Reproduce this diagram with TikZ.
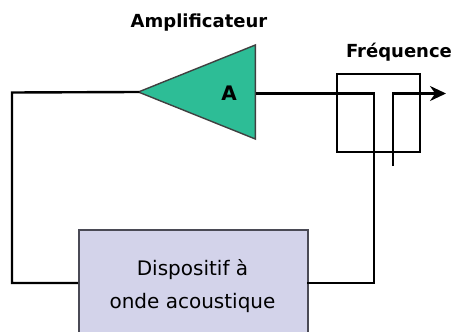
\documentclass[tikz,border=0pt]{standalone}
\usepackage{fontspec}
\setmainfont{DejaVu Sans}
\usetikzlibrary{positioning,arrows.meta,shapes.geometric}
\definecolor{green1}{HTML}{2DBD96}
\definecolor{lilac1}{HTML}{D3D3EA}
\definecolor{gray1}{HTML}{4A4A55}

\begin{document}
\begin{tikzpicture}[
    x=1pt, y=-1pt,
    >=Stealth,
    wire/.style={draw=black, line width=2.4pt, line join=miter},
    lbl/.style={font=\fontsize{18}{22}\selectfont\bfseries, inner sep=0pt},
    txt/.style={font=\fontsize{20}{33}\selectfont, align=center, inner sep=0pt},
]
\useasboundingbox (0,0) rectangle (453,332);

% Device box, cut by the lower edge
\node[draw=gray1, fill=lilac1, line width=1.6pt, minimum width=229pt, minimum height=104pt,
      inner sep=0pt, anchor=north west] (dev) at (78,229) {};
\node[txt] (devtxt) at (192.5,286) {Dispositif à\\onde acoustique};

% Amplifier
\node[isosceles triangle, isosceles triangle stretches, shape border rotate=180,
      draw=black!75, fill=green1, line width=1.4pt, minimum width=94pt, minimum height=117pt,
      inner sep=0pt, anchor=apex] (amp) at (136.5,92) {};
\node[font=\fontsize{20}{24}\selectfont\bfseries, inner sep=0pt] (ampA) at (229,93) {A};
\node[lbl] (amptxt) at (199,23) {Amplificateur};

% Frequency box
\node[draw=black, line width=2.2pt, minimum width=83pt, minimum height=78pt,
      inner sep=0pt, anchor=north west] (freq) at (336,73) {};
\node[lbl] (freqtxt) at (399,52) {Fréquence};

% Loop wires
\coordinate (corner1) at (12,92.5);
\coordinate (corner2) at (12,283);
\coordinate (corner3) at (374,283);
\coordinate (corner4) at (374,93.5);
\coordinate (corner5) at (393,93.5);
\coordinate (stub) at (393,166);
\coordinate (out) at (446,93.5);
\coordinate (devL) at (78,283);
\coordinate (devR) at (307,283);

\draw[wire, shorten <=-3pt] (amp.apex) -- (corner1) -- (corner2) -- (devL);
\draw[wire] (devR) -- (corner3) -- (corner4) -- (amp.east |- corner4);
\draw[wire, -{Stealth[length=16pt,width=15pt]}] (stub) -- (corner5) -- (out);
\end{tikzpicture}
\end{document}
